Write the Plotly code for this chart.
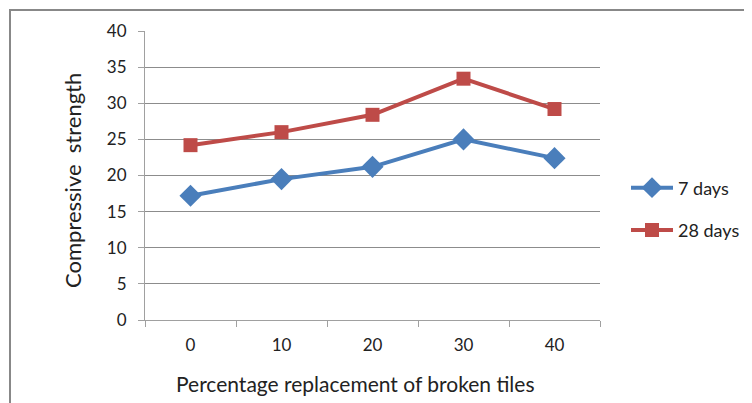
import plotly.graph_objects as go

categories = ["0", "10", "20", "30", "40"]
days7 = [17.2, 19.5, 21.2, 25.0, 22.4]
days28 = [24.2, 26.0, 28.4, 33.4, 29.2]
y_ticks = [0, 5, 10, 15, 20, 25, 30, 35, 40]

FONT = "Lato"
L, R, T, B = 137, 160, 23, 91
PW, PH = 752 - L - R, 403 - T - B


def px_x(x):
    return (x - 8 - L) / PW


def px_y(y):
    return (403 - B - (y - 8)) / PH


fig = go.Figure()
fig.add_trace(go.Scatter(
    x=categories, y=days7, name="7 days", mode="lines+markers",
    legendgroup="g7",
    line=dict(color="#4A7EBB", width=4),
    marker=dict(symbol="diamond", size=17, color="#4A7EBB"),
))
fig.add_trace(go.Scatter(
    x=categories, y=days28, name="28 days", mode="lines+markers",
    legendgroup="g28",
    line=dict(color="#BE4B48", width=4),
    marker=dict(symbol="square", size=14, color="#BE4B48"),
))

fig.update_layout(
    width=752, height=403,
    margin=dict(l=L, r=R, t=T, b=B),
    paper_bgcolor="white", plot_bgcolor="white",
    font=dict(family=FONT, size=17, color="#222"),
    showlegend=True,
    legend=dict(x=px_x(626), y=px_y(209), xanchor="left", yanchor="middle",
                font=dict(family=FONT, size=18, color="#222"),
                itemwidth=42,
                tracegroupgap=16, bgcolor="rgba(0,0,0,0)"),
    shapes=[dict(type="rect", xref="paper", yref="paper",
                 x0=px_x(10), x1=2.0, y0=-1.0, y1=px_y(10),
                 line=dict(color="#888888", width=2), fillcolor="rgba(0,0,0,0)",
                 layer="below")],
    annotations=[
        dict(text="Percentage replacement of broken tiles", xref="paper", yref="paper",
             x=px_x(355), y=px_y(383), xanchor="center", yanchor="middle",
             showarrow=False, font=dict(family=FONT, size=21, color="#222")),
        dict(text="Compressive  strength", xref="paper", yref="paper",
             x=px_x(72), y=px_y(181), xanchor="center", yanchor="middle",
             textangle=-90,
             showarrow=False, font=dict(family=FONT, size=22, color="#222")),
    ],
)
fig.update_xaxes(
    type="category", range=[-0.5, 4.5],
    showline=True, linecolor="#A0A0A0", linewidth=1,
    ticks="outside", tickson="boundaries", ticklen=6, tickcolor="#A0A0A0",
    showgrid=False, ticklabelstandoff=10,
    tickfont=dict(family=FONT, size=17, color="#222"),
)
fig.update_yaxes(
    range=[0, 40], tickvals=y_ticks,
    showline=True, linecolor="#A0A0A0", linewidth=1,
    ticks="outside", ticklen=6, tickcolor="#A0A0A0",
    showgrid=True, gridcolor="#8C8C8C", gridwidth=1,
    zeroline=False, ticklabelstandoff=8,
    tickfont=dict(family=FONT, size=17, color="#222"),
)

fig.write_html("out.html")
